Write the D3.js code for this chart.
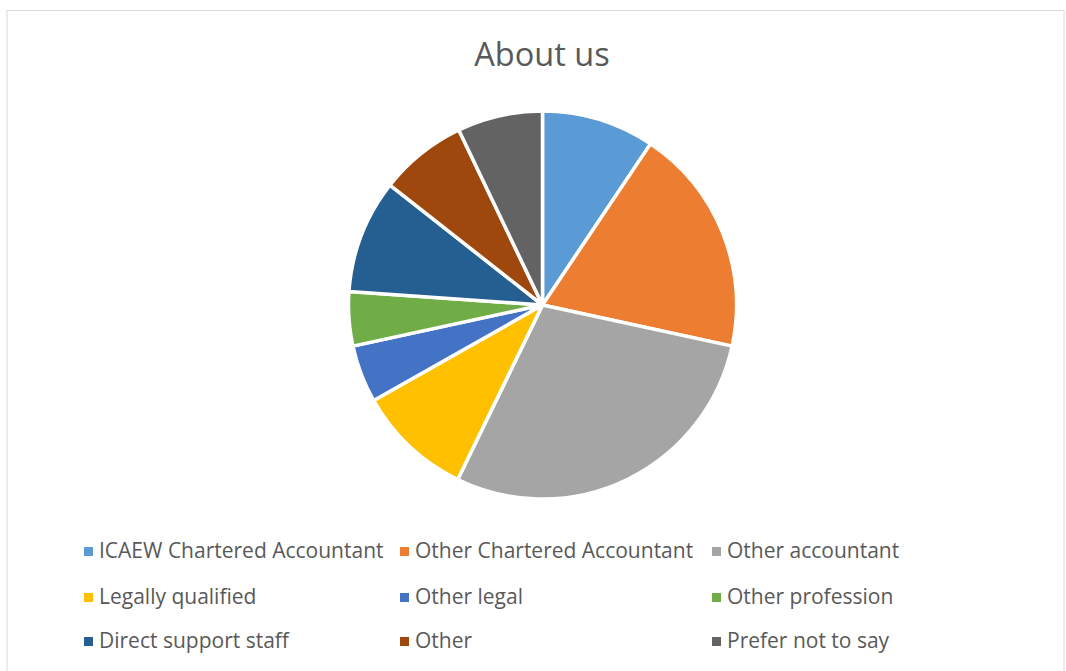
<!DOCTYPE html>
<html>
<head>
<meta charset="utf-8">
<script src="https://cdn.jsdelivr.net/npm/d3@7"></script>
<style>
  body { margin: 0; background: #fff; }
  text { font-family: "Open Sans", "Noto Sans", sans-serif; fill: #595959; }
</style>
</head>
<body>
<div id="chart"></div>
<script>
// Slice data, clockwise from 12 o'clock
var categories = ["ICAEW Chartered Accountant", "Other Chartered Accountant", "Other accountant",
                  "Legally qualified", "Other legal", "Other profession",
                  "Direct support staff", "Other", "Prefer not to say"];
var values = [9.4, 19.0, 28.8, 9.6, 4.8, 4.5, 9.5, 7.3, 7.1];
var colors = ["#5b9bd5", "#ed7d31", "#a5a5a5", "#ffc000", "#4472c4", "#70ad47",
              "#255e91", "#9e480e", "#636363"];

var width = 1066, height = 671;

var svg = d3.select("#chart")
            .append("svg")
            .attr("width", width)
            .attr("height", height);

// chart area border
svg.append("rect")
   .attr("x", 7).attr("y", 10.5)
   .attr("width", 1057).attr("height", 680)
   .attr("fill", "none")
   .attr("stroke", "#d9d9d9")
   .attr("stroke-width", 1);

svg.append("text")
   .attr("x", 542).attr("y", 66)
   .attr("text-anchor", "middle")
   .style("font-size", "32.5px")
   .text("About us");

var cx = 542.5, cy = 305, radius = 194;

var pie = d3.pie().sort(null).value(function(d) { return d; });
var arc = d3.arc().innerRadius(0).outerRadius(radius);

var g = svg.append("g").attr("transform", "translate(" + cx + "," + cy + ")");

g.selectAll("path")
 .data(pie(values))
 .enter()
 .append("path")
 .attr("d", arc)
 .attr("fill", function(d, i) { return colors[i]; })
 .attr("stroke", "#fff")
 .attr("stroke-width", 3.5)
 .attr("stroke-linejoin", "round");

// legend, 3 columns x 3 rows
var colX = [84, 400, 712];
var rowY = [551, 597, 641];

var item = svg.append("g").selectAll("g")
  .data(categories)
  .enter()
  .append("g")
  .attr("transform", function(d, i) {
      return "translate(" + colX[i % 3] + "," + rowY[Math.floor(i / 3)] + ")";
  });

item.append("rect")
    .attr("x", 0).attr("y", -4)
    .attr("width", 9).attr("height", 9)
    .attr("fill", function(d, i) { return colors[i]; });

item.append("text")
    .attr("x", 15).attr("y", 7)
    .style("font-size", "21px")
    .text(function(d) { return d; });
</script>
</body>
</html>
